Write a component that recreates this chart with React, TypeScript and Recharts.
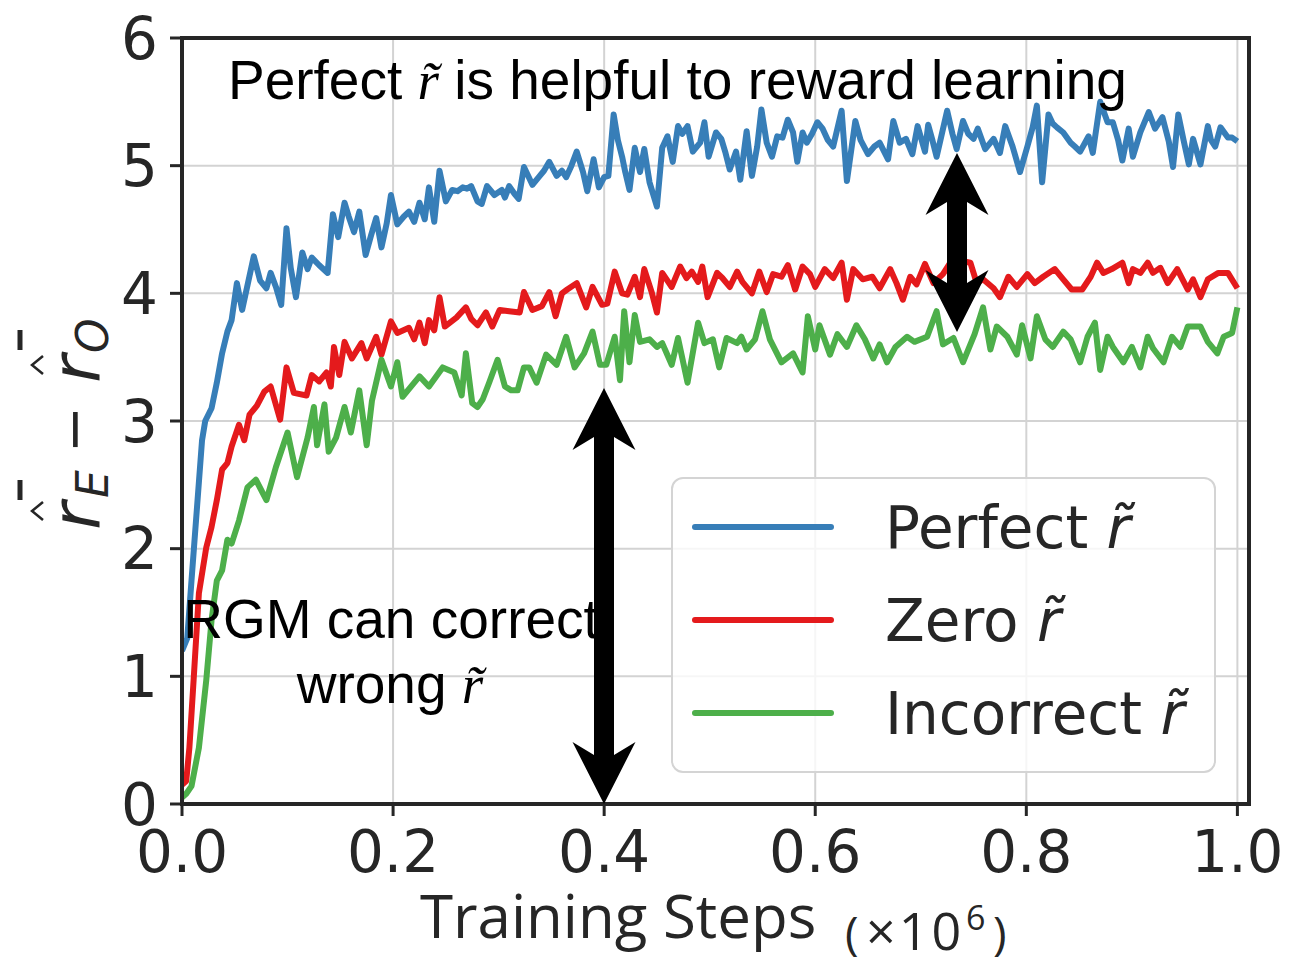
import React from 'react';
import { LineChart, Line, XAxis, YAxis, CartesianGrid, Legend, ReferenceArea } from 'recharts';

// x values are training steps in thousands (x10^3); axis shows x10^6
const X_TICKS = [0, 200, 400, 600, 800, 1000];
const Y_TICKS = [0, 1, 2, 3, 4, 5, 6];

const perfectPts: [number, number][] = [[0,1.20],[5,1.30],[9,1.75],[14,2.30],[19,2.85],[22,3.00],[28,3.10],[33,3.30],[38,3.53],[43,3.70],[47,3.79],[52,4.08],[57,3.87],[63,4.10],[68,4.29],[74,4.10],[80,4.04],[84,4.16],[89,4.05],[94,3.91],[99,4.51],[103,4.20],[108,3.97],[114,4.32],[119,4.19],[123,4.28],[130,4.22],[138,4.16],[143,4.62],[148,4.44],[154,4.71],[158,4.60],[163,4.48],[168,4.64],[174,4.30],[179,4.45],[184,4.59],[189,4.36],[194,4.55],[198,4.77],[204,4.54],[210,4.60],[215,4.64],[220,4.56],[225,4.71],[230,4.58],[234,4.83],[239,4.56],[244,4.96],[250,4.72],[256,4.81],[261,4.80],[266,4.83],[270,4.82],[274,4.84],[280,4.72],[284,4.70],[289,4.84],[296,4.77],[303,4.81],[306,4.75],[310,4.84],[315,4.78],[319,4.74],[324,4.99],[332,4.85],[339,4.92],[343,4.96],[348,5.03],[355,4.92],[360,4.96],[364,4.91],[369,5.00],[374,5.11],[380,4.95],[384,4.80],[390,5.05],[395,4.83],[400,4.91],[404,4.92],[409,5.40],[413,5.20],[417,5.07],[420,4.95],[424,4.81],[429,5.14],[434,4.95],[438,5.13],[443,4.87],[450,4.68],[455,5.14],[460,5.23],[465,5.03],[470,5.31],[474,5.25],[479,5.31],[484,5.11],[491,5.18],[495,5.34],[499,5.07],[506,5.26],[511,5.21],[515,5.10],[519,4.97],[525,5.11],[529,4.89],[535,5.27],[540,4.92],[545,5.15],[549,5.44],[554,5.18],[559,5.07],[564,5.23],[569,5.22],[574,5.36],[579,5.26],[583,5.03],[588,5.26],[592,5.18],[597,5.25],[602,5.34],[607,5.29],[612,5.20],[617,5.15],[625,5.43],[630,4.88],[638,5.35],[643,5.20],[650,5.09],[656,5.15],[661,5.18],[669,5.05],[674,5.35],[680,5.18],[686,5.21],[692,5.09],[697,5.31],[704,5.11],[707,5.32],[711,5.20],[715,5.07],[720,5.25],[725,5.43],[730,5.25],[734,5.13],[740,5.35],[745,5.25],[750,5.21],[754,5.29],[761,5.13],[769,5.21],[775,5.10],[780,5.31],[787,5.15],[794,4.95],[801,5.15],[806,5.30],[810,5.47],[815,4.87],[821,5.40],[825,5.33],[829,5.30],[835,5.26],[842,5.18],[846,5.15],[851,5.11],[859,5.23],[863,5.10],[870,5.50],[877,5.34],[882,5.34],[887,5.20],[891,5.04],[897,5.29],[901,5.07],[908,5.26],[916,5.42],[922,5.29],[929,5.38],[935,5.19],[939,4.99],[944,5.40],[949,5.20],[954,5.01],[958,5.21],[965,5.01],[972,5.31],[975,5.20],[979,5.15],[984,5.30],[991,5.22],[995,5.22],[1000,5.19]];

const zeroPts: [number, number][] = [[0,0.15],[4,0.18],[7,0.44],[11,0.97],[16,1.65],[23,2.01],[28,2.17],[33,2.38],[38,2.62],[43,2.67],[47,2.80],[54,2.97],[59,2.85],[64,3.05],[71,3.12],[78,3.23],[84,3.27],[93,3.01],[99,3.42],[106,3.22],[118,3.20],[123,3.36],[130,3.31],[137,3.38],[141,3.27],[144,3.58],[149,3.36],[154,3.62],[161,3.49],[170,3.61],[175,3.49],[184,3.66],[189,3.52],[198,3.78],[204,3.69],[215,3.73],[220,3.64],[225,3.77],[230,3.61],[234,3.79],[239,3.71],[244,3.97],[249,3.74],[260,3.81],[269,3.89],[274,3.80],[280,3.75],[288,3.85],[294,3.74],[301,3.87],[310,3.86],[320,3.85],[324,4.01],[332,3.87],[341,3.90],[348,4.01],[354,3.82],[360,4.00],[365,4.03],[374,4.08],[383,3.89],[389,4.05],[398,3.91],[403,3.92],[410,4.17],[417,4.00],[422,3.99],[429,4.13],[434,3.97],[438,4.19],[445,4.01],[450,3.85],[455,4.16],[464,4.05],[472,4.21],[478,4.12],[483,4.17],[489,4.09],[493,4.21],[498,3.97],[507,4.16],[512,4.12],[519,4.05],[526,4.17],[531,4.09],[540,4.00],[547,4.17],[554,4.01],[560,4.15],[568,4.13],[574,4.22],[581,4.03],[588,4.21],[595,4.15],[600,4.05],[609,4.19],[617,4.12],[625,4.24],[630,3.95],[636,4.19],[645,4.11],[654,4.13],[661,4.04],[671,4.19],[677,4.08],[683,3.95],[690,4.13],[696,4.07],[704,4.23],[712,4.08],[721,4.15],[728,4.24],[735,4.26],[747,4.24],[753,4.08],[759,4.11],[769,4.04],[775,3.97],[783,4.13],[791,4.05],[801,4.15],[808,4.08],[816,4.13],[827,4.19],[835,4.11],[843,4.03],[853,4.03],[861,4.13],[867,4.24],[873,4.16],[881,4.19],[891,4.24],[897,4.08],[901,4.19],[908,4.16],[915,4.24],[920,4.16],[927,4.20],[934,4.08],[943,4.19],[953,4.03],[958,4.11],[965,3.97],[972,4.11],[982,4.16],[991,4.16],[1000,4.04]];

const incorrectPts: [number, number][] = [[0,0.05],[4,0.08],[9,0.14],[16,0.44],[23,0.97],[28,1.44],[33,1.75],[38,1.83],[43,2.07],[47,2.04],[54,2.22],[62,2.48],[70,2.54],[80,2.38],[89,2.64],[100,2.91],[109,2.56],[119,2.87],[125,3.11],[128,2.81],[135,3.13],[139,2.76],[146,2.87],[154,3.11],[160,2.91],[168,3.24],[175,2.81],[180,3.16],[189,3.48],[198,3.27],[204,3.46],[209,3.19],[215,3.25],[225,3.35],[234,3.27],[247,3.42],[258,3.38],[265,3.20],[269,3.53],[275,3.14],[280,3.11],[285,3.17],[291,3.30],[299,3.48],[306,3.27],[312,3.24],[318,3.24],[324,3.42],[329,3.42],[336,3.30],[345,3.52],[355,3.44],[364,3.66],[372,3.42],[381,3.53],[389,3.70],[396,3.44],[402,3.44],[410,3.66],[415,3.32],[419,3.86],[424,3.46],[429,3.83],[434,3.62],[443,3.64],[450,3.58],[455,3.61],[464,3.44],[470,3.65],[479,3.30],[489,3.77],[495,3.61],[503,3.64],[509,3.42],[516,3.65],[526,3.61],[530,3.66],[535,3.56],[543,3.64],[550,3.86],[557,3.64],[568,3.46],[579,3.53],[588,3.38],[593,3.82],[600,3.56],[604,3.75],[614,3.52],[621,3.68],[630,3.58],[639,3.75],[647,3.64],[655,3.49],[661,3.60],[668,3.46],[676,3.58],[687,3.66],[694,3.62],[706,3.66],[715,3.86],[721,3.60],[731,3.65],[740,3.46],[751,3.68],[759,3.89],[766,3.56],[772,3.74],[782,3.66],[791,3.52],[796,3.75],[804,3.49],[810,3.82],[818,3.64],[825,3.58],[835,3.70],[842,3.64],[851,3.46],[858,3.66],[865,3.77],[870,3.40],[877,3.66],[882,3.58],[892,3.46],[900,3.58],[908,3.42],[915,3.66],[920,3.57],[930,3.46],[938,3.66],[946,3.58],[953,3.74],[965,3.74],[972,3.62],[981,3.53],[987,3.66],[995,3.69],[1000,3.89]];

const SERIES = [
  { key: 'perfect', name: 'Perfect', color: '#377eb8', pts: perfectPts },
  { key: 'zero', name: 'Zero', color: '#e41a1c', pts: zeroPts },
  { key: 'incorrect', name: 'Incorrect', color: '#4daf4a', pts: incorrectPts },
];

const toRows = (pts: [number, number][]) => pts.map(([x, y]) => ({ x, y }));

const INK = '#262626';

const LegendBox = () => (
  <div
    style={{
      position: 'relative',
      width: 545,
      height: 296,
      boxSizing: 'border-box',
      border: '2px solid #d4d4d4',
      borderRadius: 12,
      background: 'rgba(255,255,255,0.8)',
    }}
  >
    <svg width={545} height={296} style={{ position: 'absolute', left: -2, top: -2 }}>
      {SERIES.map((s, i) => (
        <g key={s.key}>
          <line x1={24} x2={160} y1={50 + i * 93} y2={50 + i * 93} stroke={s.color} strokeWidth={6} strokeLinecap="round" />
          <text x={214} y={71 + i * 93} fontFamily="DejaVu Sans" fontSize={58} fill={INK}>
            {s.name} <tspan fontStyle="italic">r&#x0303;</tspan>
          </text>
        </g>
      ))}
    </svg>
  </div>
);

const arrowPath = (x: number, yt: number, yb: number) =>
  `M${x},${yt} L${x + 31.5},${yt + 62} L${x + 10},${yt + 49} L${x + 10},${yb - 49} L${x + 31.5},${yb - 62} L${x},${yb} ` +
  `L${x - 31.5},${yb - 62} L${x - 10},${yb - 49} L${x - 10},${yt + 49} L${x - 31.5},${yt + 62} Z`;

export default function App() {
  return (
    <div style={{ position: 'relative', width: 1299, height: 975, background: '#fff' }}>
      <style>{`body{margin:0;background:#fff;}`}</style>
      <LineChart width={1299} height={975} margin={{ top: 38, right: 50, left: 0, bottom: 0 }}>
        <CartesianGrid stroke="#d3d3d3" strokeWidth={2} />
        <XAxis
          type="number"
          dataKey="x"
          domain={[0, 1011]}
          ticks={X_TICKS}
          allowDataOverflow
          tickFormatter={(v: number) => (v / 1000).toFixed(1)}
          height={171}
          tickSize={12}
          tickMargin={15}
          axisLine={{ stroke: INK, strokeWidth: 4 }}
          tickLine={{ stroke: INK, strokeWidth: 3 }}
          tick={{ fontSize: 58, fill: INK, fontFamily: 'DejaVu Sans' }}
        />
        <YAxis
          type="number"
          domain={[0, 6]}
          ticks={Y_TICKS}
          allowDataOverflow
          width={182}
          tickSize={12}
          tickMargin={12}
          axisLine={{ stroke: INK, strokeWidth: 4 }}
          tickLine={{ stroke: INK, strokeWidth: 3 }}
          tick={{ fontSize: 58, fill: INK, fontFamily: 'DejaVu Sans' }}
        />
        {SERIES.map((s) => (
          <Line
            key={s.key}
            data={toRows(s.pts)}
            dataKey="y"
            name={s.name}
            type="linear"
            stroke={s.color}
            strokeWidth={6}
            strokeLinejoin="round"
            dot={false}
            activeDot={false}
            isAnimationActive={false}
          />
        ))}
        <ReferenceArea x1={0} x2={1011} y1={0} y2={6} fill="none" fillOpacity={0} stroke={INK} strokeWidth={4} ifOverflow="visible" />
        <Legend
          layout="horizontal"
          verticalAlign="middle"
          align="center"
          wrapperStyle={{ left: 671, top: 477, width: 545, height: 296 }}
          content={() => <LegendBox />}
        />
      </LineChart>
      <svg width={1299} height={975} style={{ position: 'absolute', left: 0, top: 0, pointerEvents: 'none' }}>
        {/* y-axis label */}
        <g transform="translate(100,0) rotate(-90)" fill={INK} fontFamily="DejaVu Sans">
          <text x={-530} y={0} fontSize={68} fontStyle="italic">r</text>
          <text x={-498} y={8} fontSize={44} fontStyle="italic">E</text>
          <text x={-453} y={-7} fontSize={56}>−</text>
          <text x={-383} y={0} fontSize={68} fontStyle="italic">r</text>
          <text x={-353} y={8} fontSize={44} fontStyle="italic">O</text>
        </g>
        <path d="M43,356 L32,365 L43,374" stroke={INK} strokeWidth={2.5} fill="none" />
        <path d="M43,502 L32,511 L43,520" stroke={INK} strokeWidth={2.5} fill="none" />
        <line x1={20} x2={20} y1={330} y2={350} stroke={INK} strokeWidth={5} />
        <line x1={20} x2={20} y1={480} y2={500} stroke={INK} strokeWidth={5} />

        {/* x-axis label */}
        <text x={420} y={938} fontFamily="Open Sans" fontSize={60} fill={INK}>Training Steps</text>
        <text x={845} y={950} fontFamily="Open Sans" fontSize={46} fill={INK}>(</text>
        <text x={866} y={950} fontFamily="Open Sans" fontSize={52} letterSpacing={3} fill={INK}>×10</text>
        <text x={966} y={930} fontFamily="Open Sans" fontSize={34} fill={INK}>6</text>
        <text x={993} y={950} fontFamily="Open Sans" fontSize={46} fill={INK}>)</text>

        {/* annotations */}
        <text x={228} y={99} fontFamily="Liberation Sans" fontSize={55} fill="#000">
          Perfect <tspan fontFamily="Liberation Serif" fontStyle="italic">r&#x0303;</tspan> is helpful to reward learning
        </text>
        <text x={391} y={638} textAnchor="middle" fontFamily="Liberation Sans" fontSize={55} fill="#000">RGM can correct</text>
        <text x={390} y={703} textAnchor="middle" fontFamily="Liberation Sans" fontSize={55} fill="#000">
          wrong <tspan fontFamily="Liberation Serif" fontStyle="italic">r&#x0303;</tspan>
        </text>

        <path d={arrowPath(604, 388, 804)} fill="#000" />
        <path d={arrowPath(957, 153, 332)} fill="#000" />
      </svg>
    </div>
  );
}
